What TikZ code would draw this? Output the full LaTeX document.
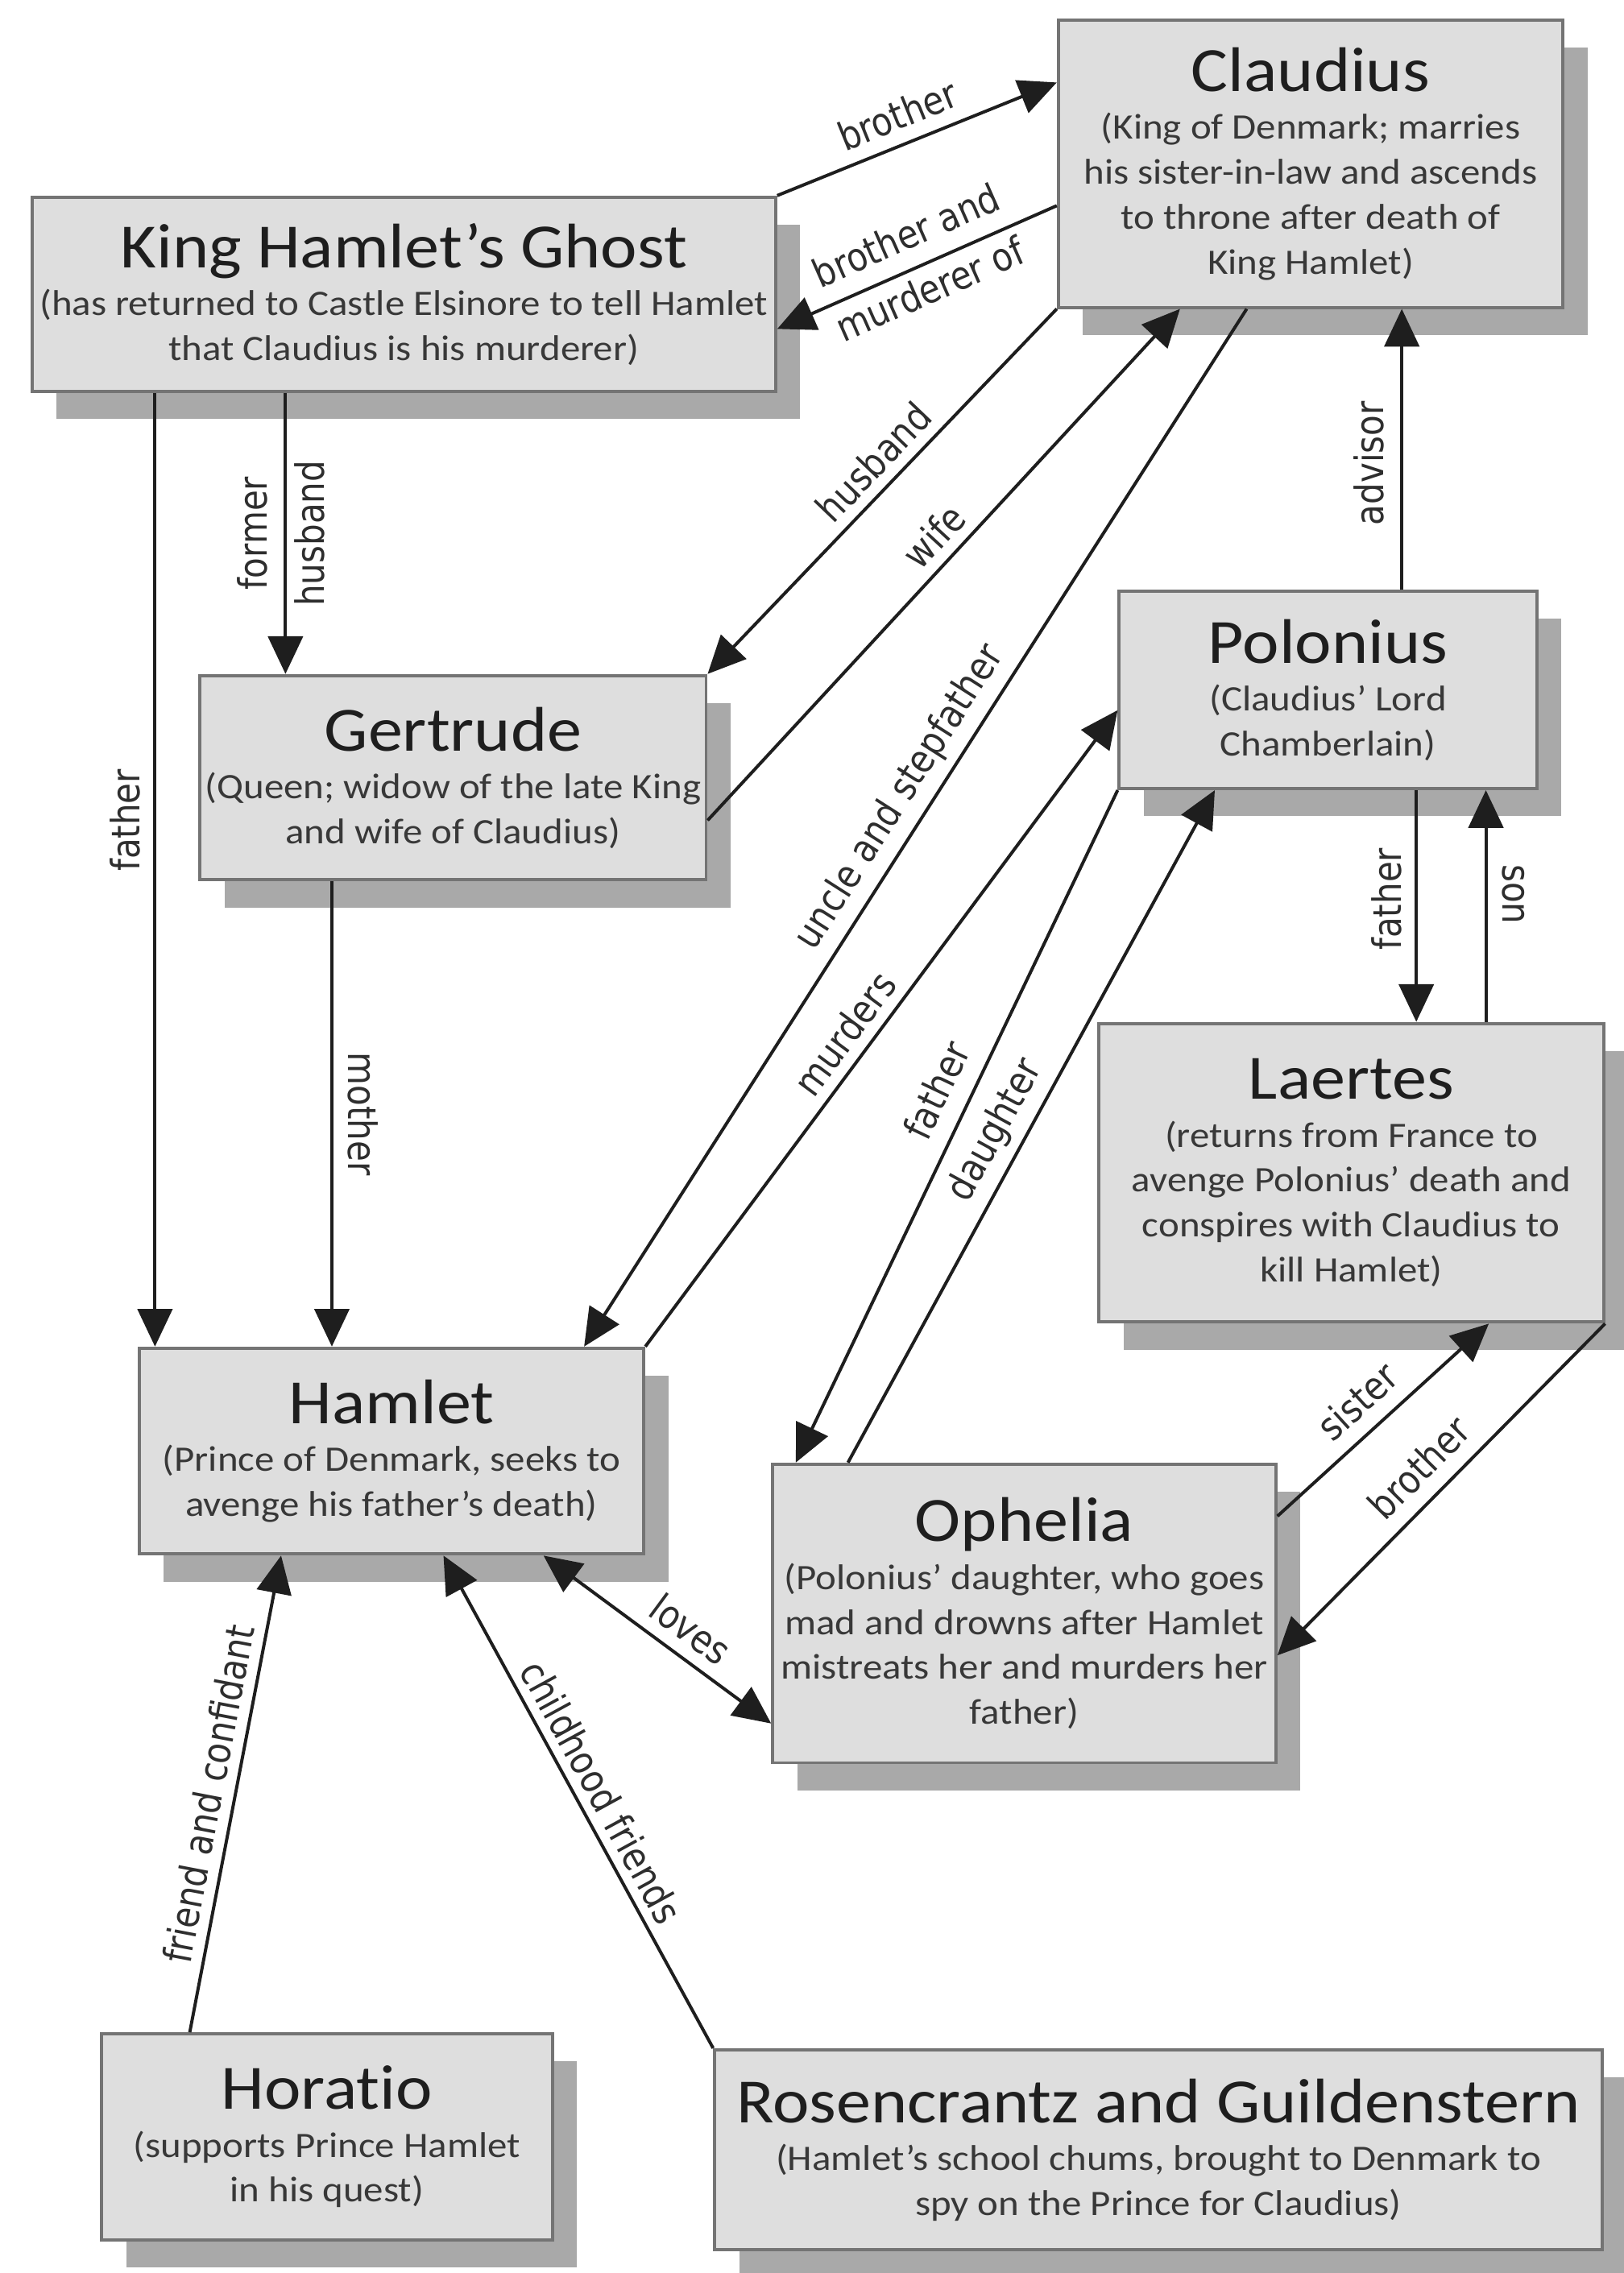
\documentclass[tikz,border=0pt]{standalone}
\usepackage{fontspec}
\setmainfont{Carlito}[FakeStretch=1.1,Ligatures=NoCommon]
\newfontfamily\labfont{DejaVu Sans}[FakeStretch=0.865]
\usetikzlibrary{arrows.meta,shadows,calc}
\definecolor{boxfill}{HTML}{DEDEDE}
\definecolor{boxline}{HTML}{747474}
\definecolor{shadowc}{HTML}{A9A9A9}
\definecolor{inkc}{HTML}{1E1E1E}
\definecolor{subc}{HTML}{383838}
\definecolor{labc}{HTML}{2E2E2E}
\newcommand{\ttl}[1]{{\fontsize{43.5}{48}\selectfont\color{inkc}#1}}
\tikzset{
  box/.style={draw=boxline, line width=2.2pt, fill=boxfill, inner sep=0pt, align=center,
     font=\fontsize{24.7}{31}\selectfont, text=subc,
     general shadow={fill=shadowc, shadow xshift=17pt, shadow yshift=-19pt}},
  rel/.style={draw=inkc, line width=2.2pt, -{Triangle[length=26pt,width=24pt]}},
  rel2/.style={draw=inkc, line width=2.2pt, {Triangle[length=26pt,width=24pt]}-{Triangle[length=26pt,width=24pt]}},
  lab/.style={font=\labfont\fontsize{27}{38}\selectfont, text=labc, inner sep=0pt},
}
\begin{document}
\begin{tikzpicture}[x=1pt,y=-1pt]
\useasboundingbox (0,0) rectangle (1120,1568);
\fill[white] (0,0) rectangle (1120,1568);

% boxes
\node[box, minimum width=348pt, minimum height=198pt] (claudius) at (904,113)
  {\ttl{Claudius}\\[2pt](King of Denmark; marries\\his sister-in-law and ascends\\to throne after death of\\King Hamlet)};
\node[box, minimum width=513pt, minimum height=134pt] (ghost) at (278.5,203)
  {\ttl{King Hamlet’s Ghost}\\[2pt](has returned to Castle Elsinore to tell Hamlet\\that Claudius is his murderer)};
\node[box, minimum width=349pt, minimum height=141pt] (gertrude) at (312.5,536.5)
  {\ttl{Gertrude}\\[2pt](Queen; widow of the late King\\and wife of Claudius)};
\node[box, minimum width=288pt, minimum height=136pt] (polonius) at (916,476)
  {\ttl{Polonius}\\[2pt](Claudius’ Lord\\Chamberlain)};
\node[box, minimum width=348pt, minimum height=206pt] (laertes) at (932,809)
  {\ttl{Laertes}\\[2pt](returns from France to\\avenge Polonius’ death and\\conspires with Claudius to\\kill Hamlet)};
\node[box, minimum width=348pt, minimum height=142pt] (hamlet) at (270,1001)
  {\ttl{Hamlet}\\[2pt](Prince of Denmark, seeks to\\avenge his father’s death)};
\node[box, minimum width=347pt, minimum height=206pt] (ophelia) at (706.5,1113)
  {\ttl{Ophelia}\\[2pt](Polonius’ daughter, who goes\\mad and drowns after Hamlet\\mistreats her and murders her\\father)};
\node[box, minimum width=311pt, minimum height=142pt] (horatio) at (225.5,1474)
  {\ttl{Horatio}\\[2pt](supports Prince Hamlet\\in his quest)};
\node[box, minimum width=612pt, minimum height=138pt] (rg) at (799,1483)
  {\ttl{Rosencrantz and Guildenstern}\\[2pt](Hamlet’s school chums, brought to Denmark to\\spy on the Prince for Claudius)};

% connectors
\draw[rel] (ghost.north east) -- node[lab,sloped,above=9pt,pos=.47]{brother} ($(claudius.north west)+(0,44)$);
\draw[rel] ($(claudius.north west)+(0,129)$) -- node[lab,sloped,above=12pt,pos=.49]{brother and} node[lab,sloped,below=5.5pt,pos=.49]{murderer of} ($(ghost.north east)+(0,92)$);
\draw[rel] ($(ghost.south west)+(176,0)$) -- node[lab,pos=.5,xshift=-11pt,rotate=90,anchor=south]{former} node[lab,pos=.5,xshift=5pt,rotate=90,anchor=north]{husband} ($(gertrude.north west)+(60,0)$);
\draw[rel] ($(ghost.south west)+(86,0)$) -- node[lab,pos=.448,xshift=-9pt,rotate=90,anchor=south]{father} ($(hamlet.north west)+(12,0)$);
\draw[rel] ($(gertrude.south west)+(92,0)$) -- node[lab,pos=.5,xshift=10pt,rotate=-90,anchor=south]{mother} ($(hamlet.north west)+(134,0)$);
\draw[rel] ($(polonius.north west)+(196,0)$) -- node[lab,pos=.45,xshift=-11pt,rotate=90,anchor=south]{advisor} ($(claudius.south west)+(238,0)$);
\draw[rel] ($(polonius.south west)+(206,0)$) -- node[lab,pos=.47,xshift=-9pt,rotate=90,anchor=south]{father} ($(laertes.north west)+(220,0)$);
\draw[rel] ($(laertes.north west)+(268,0)$) -- node[lab,pos=.55,xshift=10pt,rotate=-90,anchor=south]{son} ($(polonius.south west)+(254,0)$);
\draw[rel] (claudius.south west) -- node[lab,sloped,above=7pt,pos=.47]{husband} (gertrude.north east);
\draw[rel] ($(gertrude.north east)+(0,101)$) -- node[lab,sloped,above=7pt,pos=.52]{wife} ($(claudius.south west)+(85,0)$);
\draw[rel] ($(claudius.south west)+(131,0)$) -- node[lab,sloped,above=6pt,pos=.486]{uncle and stepfather} ($(hamlet.north west)+(308,0)$);
\draw[rel] (hamlet.north east) -- node[lab,sloped,above=7pt,pos=.467]{murders} ($(polonius.north west)+(0,83)$);
\draw[rel] (polonius.south west) -- node[lab,sloped,above=12pt,pos=.468]{father} ($(ophelia.north west)+(17,0)$);
\draw[rel] ($(ophelia.north west)+(53,0)$) -- node[lab,sloped,above=6pt,pos=.473]{daughter} ($(polonius.south west)+(67,0)$);
\draw[rel] ($(ophelia.north east)+(0,37)$) -- node[lab,sloped,above=10pt,pos=.477]{sister} ($(laertes.south west)+(270,0)$);
\draw[rel] (laertes.south east) -- node[lab,sloped,above=10pt,pos=.5]{brother} ($(ophelia.north east)+(0,133)$);
\draw[rel2] ($(hamlet.south west)+(280,0)$) -- node[lab,sloped,above=8pt,pos=.574]{loves} ($(ophelia.north west)+(0,180)$);
\draw[rel] ($(horatio.north west)+(62,0)$) -- node[lab,sloped,above=7pt,pos=.49]{friend and confidant} ($(hamlet.south west)+(99,0)$);
\draw[rel] (rg.north west) -- node[lab,sloped,above=6pt,pos=.496]{childhood friends} ($(hamlet.south west)+(211,0)$);
\end{tikzpicture}
\end{document}
